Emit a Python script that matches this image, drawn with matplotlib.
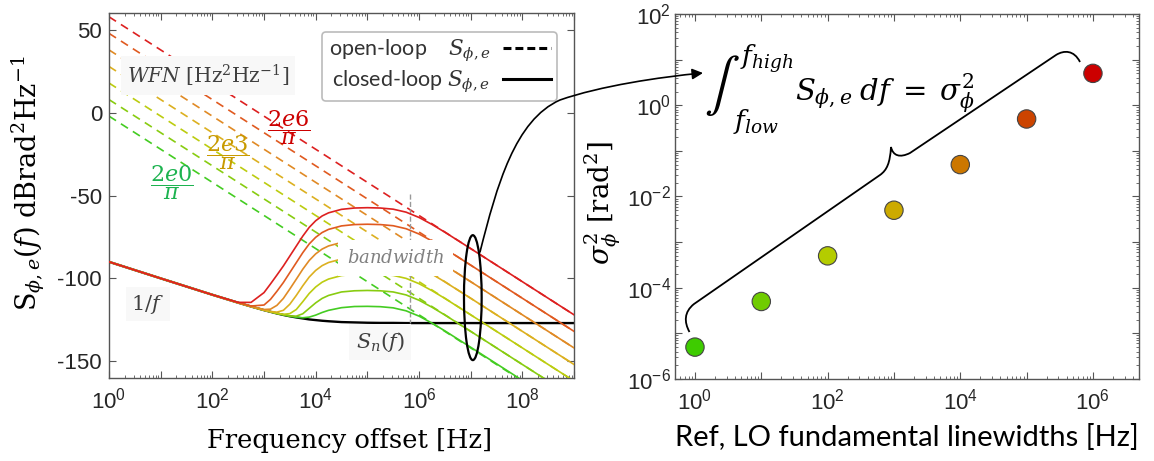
import numpy as np
import matplotlib.pyplot as plt
from matplotlib.lines import Line2D
from matplotlib.patches import Ellipse, FancyArrowPatch, PathPatch
from matplotlib.path import Path
from matplotlib.transforms import Affine2D
from matplotlib.ticker import FixedLocator, LogLocator, NullFormatter

plt.rcParams['mathtext.fontset'] = 'dejavuserif'
plt.rcParams['axes.unicode_minus'] = False

# ---- left panel data ----
# frequency grid, log10(Hz)
log_f = [0, 1, 2, 2.5, 2.75, 3, 3.125, 3.25, 3.375, 3.5, 3.625, 3.75, 3.875, 4,
         4.125, 4.25, 4.5, 4.75, 5, 5.25, 5.5, 5.75, 6, 6.25, 6.5, 7, 8, 9]

# noise floor S_n(f), dB
floor_db = [-90, -100, -109.9, -114.7, -117.0, -119.2, -120.2, -121.2, -122.1, -122.9,
            -123.6, -124.2, -124.8, -125.2, -125.6, -125.9, -126.4, -126.6, -126.8,
            -126.9, -126.9, -127, -127, -127, -127, -127, -127, -127]

# closed-loop S_phi,e, dB  (linewidth 2e0 ... 2e6 Hz)
cl_2e0 = [-90, -100, -109.9, -114.7, -117.0, -119.2, -120.2, -121.2, -122.1, -122.9,
          -123.5, -123.8, -123.4, -122.2, -120.6, -119.3, -117.7, -117.0, -116.9,
          -117.1, -117.8, -119.6, -122.8, -127.0, -131.7, -141.6, -161.6, -182]
cl_2e1 = [-90, -100, -109.9, -114.7, -117.0, -119.2, -120.2, -121.2, -122.0, -122.7,
          -122.8, -121.4, -118.1, -114.8, -112.1, -110.3, -108.2, -107.5, -107.3,
          -107.5, -108.2, -110.0, -113.2, -117.4, -122.1, -132, -152, -172]
cl_2e2 = [-90, -100, -109.9, -114.7, -117.0, -119.2, -120.2, -121.1, -121.7, -121.3,
          -118.8, -114.1, -109.1, -105.2, -102.3, -100.4, -98.3, -97.5, -97.3,
          -97.5, -98.2, -100.0, -103.2, -107.4, -112.1, -122, -142, -162]
cl_2e3 = [-90, -100, -109.9, -114.7, -117.0, -119.2, -120.0, -120.4, -119.3, -115.6,
          -110.3, -104.5, -99.2, -95.2, -92.3, -90.4, -88.3, -87.5, -87.3,
          -87.5, -88.2, -90.0, -93.2, -97.4, -102.1, -112, -132, -152]
cl_2e4 = [-90, -100, -109.9, -114.7, -117.0, -118.8, -118.6, -116.3, -112.1, -106.4,
          -100.5, -94.5, -89.2, -85.2, -82.3, -80.4, -78.3, -77.5, -77.3,
          -77.5, -78.2, -80.0, -83.2, -87.4, -92.1, -102, -122, -142]
cl_2e5 = [-90, -100, -109.9, -114.7, -116.7, -116.1, -112.7, -107.8, -102.5, -96.5,
          -90.5, -84.5, -79.2, -75.2, -72.3, -70.4, -68.3, -67.5, -67.3,
          -67.5, -68.2, -70.0, -73.2, -77.4, -82.1, -92, -112, -132]
cl_2e6 = [-90, -100, -109.9, -114.5, -114.5, -108.6, -103.4, -98.0, -92.5, -86.5,
          -80.5, -74.5, -69.2, -65.2, -62.3, -60.4, -58.3, -57.5, -57.3,
          -57.5, -58.2, -60.0, -63.2, -67.4, -72.1, -82, -102, -122]
closed_loop = [cl_2e0, cl_2e1, cl_2e2, cl_2e3, cl_2e4, cl_2e5, cl_2e6]

# open-loop (white frequency noise) lines: level at 1 Hz and at 1 GHz, dB
ol_f = [1, 1e9]
ol_at_1hz = [-2, 8, 18, 28, 38, 48, 58]
ol_at_1ghz = [-182, -172, -162, -152, -142, -132, -122]

bw_freq = 6.7e5
bw_span = [-49, -127]

line_colors = ['#44cc22', '#88cc11', '#bccc10', '#dcb020', '#e08a25', '#e05a20', '#dd2020']

# ---- right panel data ----
lo_linewidth = [1, 10, 100, 1e3, 1e4, 1e5, 1e6]
sigma2 = [5e-6, 5e-5, 5e-4, 5e-3, 5e-2, 5e-1, 5]
marker_colors = ['#3ecc00', '#70cc00', '#b4cc00', '#ccaa00', '#cc7700', '#cc4400', '#cc0000']

W, H = 1154, 461
fig = plt.figure(figsize=(W / 100, H / 100), dpi=100)
px = Affine2D().scale(1 / W, -1 / H).translate(0, 1) + fig.transFigure


def fx(x):
    return x / W


def fy(y):
    return 1 - y / H


tick_kw = dict(which='both', direction='in', top=True, right=True,
               color='#555555', labelcolor='#262626', labelsize=16)


def style_axes(ax):
    for s in ax.spines.values():
        s.set_color('#555555')
        s.set_linewidth(1.0)
    ax.tick_params(**tick_kw)
    ax.tick_params(which='major', length=5, pad=7)
    ax.tick_params(which='minor', length=2.5)
    for lab in ax.get_xticklabels() + ax.get_yticklabels():
        lab.set_family('Liberation Sans')


def dec_labels(exps):
    return [r'$\mathregular{10^{%d}}$' % e if e % 2 == 0 else '' for e in exps]


# ================= left panel =================
ax1 = fig.add_axes([109 / W, fy(377.7), 465 / W, 364.2 / H])
f = 10.0 ** np.array(log_f)

for k in range(7):
    ax1.plot(ol_f, [ol_at_1hz[k], ol_at_1ghz[k]], color=line_colors[k], ls=(0, (5, 3.5)),
             lw=1.2, zorder=1)
ax1.plot(f, floor_db, color='k', lw=1.7, zorder=2)
for k in range(7):
    ax1.plot(f, closed_loop[k], color=line_colors[k], lw=1.2, zorder=3)
ax1.plot([bw_freq, bw_freq], bw_span, color='#999999', ls='--', lw=1, zorder=2)

ax1.set_xscale('log')
ax1.set_xlim(1, 1e9)
ax1.set_ylim(-160, 60)
ax1.set_yticks([-150, -100, -50, 0, 50])
exps = list(range(0, 10))
ax1.xaxis.set_major_locator(FixedLocator([10.0 ** e for e in exps]))
ax1.set_xticklabels(dec_labels(exps))
ax1.xaxis.set_minor_locator(LogLocator(subs=np.arange(2, 10), numticks=20))
ax1.xaxis.set_minor_formatter(NullFormatter())
style_axes(ax1)
ax1.tick_params(axis='y', pad=5)

ax1.text(10 ** 1.916, 22.5, r'$WFN$ [Hz$^2$Hz$^{-1}$]', ha='center', va='center',
         fontsize=14.5, family='DejaVu Serif', color='#404040',
         bbox=dict(boxstyle='square,pad=0.3', fc='#f8f8f8', ec='none'), zorder=5)
ax1.text(10 ** 3.484, -8.9, r'$\dfrac{2e6}{\pi}$', ha='center', va='center',
         fontsize=16, color='#cc0000', zorder=5)
ax1.text(10 ** 2.293, -23.9, r'$\dfrac{2e3}{\pi}$', ha='center', va='center',
         fontsize=16, color='#c89a00', zorder=5)
ax1.text(10 ** 1.22, -42.4, r'$\dfrac{2e0}{\pi}$', ha='center', va='center',
         fontsize=16, color='#1db350', zorder=5)
ax1.text(10 ** 5.545, -87.8, r'$bandwidth$', ha='center', va='center', fontsize=13,
         color='#808080', bbox=dict(boxstyle='square,pad=0.5', fc='white', ec='none'),
         zorder=5)
ax1.text(10 ** 0.755, -115.5, r'$1/f$', ha='center', va='center', fontsize=15,
         color='#404040', bbox=dict(boxstyle='square,pad=0.25', fc='#f8f8f8', ec='none'),
         zorder=5)
ax1.text(10 ** 5.245, -138.4, r'$S_n(f)$', ha='center', va='center', fontsize=15,
         color='#404040', bbox=dict(boxstyle='square,pad=0.3', fc='#f8f8f8', ec='none'),
         zorder=5)

handles = [Line2D([], [], color='k', ls=(0, (2.6, 1.3)), lw=2.2),
           Line2D([], [], color='k', lw=2.2)]
labels = ['open-loop    $S_{\\phi,e}$', 'closed-loop $S_{\\phi,e}$']
leg = ax1.legend(handles, labels, loc='upper right', bbox_to_anchor=(0.987, 0.979),
                 markerfirst=False, fancybox=True, framealpha=1, edgecolor='#bbbbbb',
                 prop={'family': 'Lato', 'size': 15.5}, handlelength=2.2,
                 borderpad=0.3, labelspacing=0.2, handletextpad=0.6)
leg.get_frame().set_linewidth(1.2)
for t in leg.get_texts():
    t.set_color('#333333')

ax1.add_patch(Ellipse((0.7824, 0.2198), 0.038, 0.343, transform=ax1.transAxes,
                      fill=False, ec='k', lw=1.6, zorder=6, clip_on=False))

fig.text(fx(350), fy(440), 'Frequency offset [Hz]', ha='center', va='center',
         fontsize=18.5, family='DejaVu Serif')
fig.text(fx(28), fy(183), r'S$_{\phi,e}(f)$ dBrad$^2$Hz$^{-1}$', rotation=90,
         ha='center', va='center', fontsize=19.5, family='DejaVu Serif')

# ================= right panel =================
ax2 = fig.add_axes([675 / W, fy(379), 464.3 / W, 365 / H])
ax2.scatter(lo_linewidth, sigma2, s=175, c=marker_colors, edgecolors='#444444',
            linewidths=0.8, zorder=3)
ax2.set_xscale('log')
ax2.set_yscale('log')
ax2.set_xlim(0.5, 5e6)
ax2.set_ylim(1e-6, 1e2)
xe = list(range(0, 7))
ax2.xaxis.set_major_locator(FixedLocator([10.0 ** e for e in xe]))
ax2.set_xticklabels(dec_labels(xe))
ye = list(range(-6, 3))
ax2.yaxis.set_major_locator(FixedLocator([10.0 ** e for e in ye]))
ax2.set_yticklabels(dec_labels(ye))
for a in (ax2.xaxis, ax2.yaxis):
    a.set_minor_locator(LogLocator(subs=np.arange(2, 10), numticks=20))
    a.set_minor_formatter(NullFormatter())
style_axes(ax2)
ax2.tick_params(axis='y', pad=3)

fig.text(fx(907), fy(437), 'Ref, LO fundamental linewidths [Hz]', ha='center',
         va='center', fontsize=21, family='Lato')
fig.text(fx(603), fy(203), r'$\sigma^2_\phi$ [rad$^2$]', rotation=90, ha='center',
         va='center', fontsize=20, family='DejaVu Serif')

# integral formula
fig.text(fx(722), fy(86), r'$\int$', ha='center', va='center', fontsize=38,
         math_fontfamily='stix')
fig.text(fx(740), fy(59), r'$f_{high}$', ha='left', va='center', fontsize=19)
fig.text(fx(733), fy(121), r'$f_{low}$', ha='left', va='center', fontsize=19)
fig.text(fx(795), fy(93), r'$S_{\phi,e}\;df\;=\;\sigma_\phi^2$', ha='left', va='center',
         fontsize=21)

# curved arrow from the ellipse to the formula
arrow_path = Path([(480, 252), (497, 185), (515, 120), (560, 100),
                   (600, 86), (660, 77), (703, 73)],
                  [Path.MOVETO, Path.CURVE4, Path.CURVE4, Path.CURVE4,
                   Path.CURVE4, Path.CURVE4, Path.CURVE4])
fig.add_artist(FancyArrowPatch(path=arrow_path, arrowstyle='-|>', mutation_scale=16,
                               lw=1.2, color='k', transform=px))

# curly brace over the points
brace = Path([(689.5, 332), (684, 322), (684, 312), (694, 304),
              (880, 175),
              (887, 170), (890, 163), (891, 147),
              (893, 156), (900, 158), (910, 153),
              (1056, 55),
              (1064, 50), (1074, 50), (1080, 62)],
             [Path.MOVETO, Path.CURVE4, Path.CURVE4, Path.CURVE4,
              Path.LINETO,
              Path.CURVE4, Path.CURVE4, Path.CURVE4,
              Path.CURVE4, Path.CURVE4, Path.CURVE4,
              Path.LINETO,
              Path.CURVE4, Path.CURVE4, Path.CURVE4])
fig.add_artist(PathPatch(brace, fill=False, ec='k', lw=1.3, transform=px))

fig.savefig('out.png', dpi=100)
